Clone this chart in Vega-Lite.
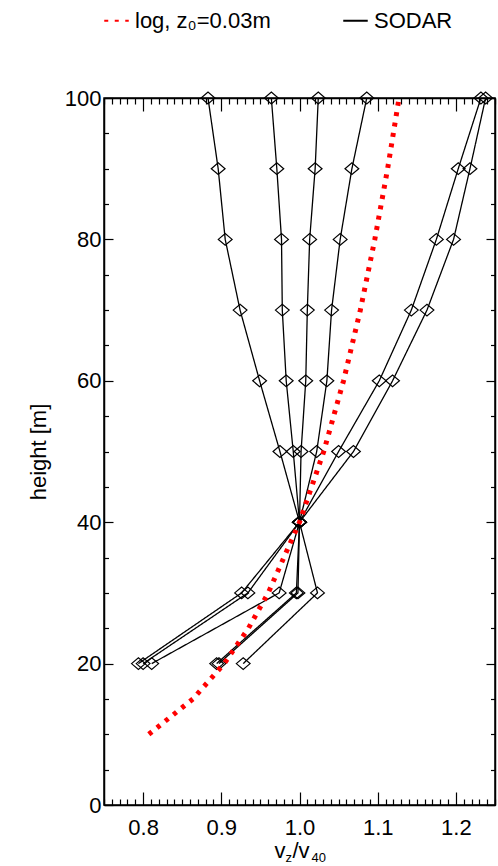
{
  "$schema": "https://vega.github.io/schema/vega-lite/v6.json",
  "width": 391,
  "height": 707,
  "autosize": {"type": "none"},
  "padding": {"left": 104, "top": 98, "right": 3, "bottom": 61},
  "background": "white",
  "config": {
    "view": {"stroke": "black", "strokeWidth": 1.5},
    "font": "Liberation Sans",
    "axis": {
      "domainColor": "black", "domainWidth": 1.5, "tickColor": "black", "tickWidth": 1.2,
      "labelColor": "black", "titleColor": "black", "labelFont": "Liberation Sans", "titleFont": "Liberation Sans",
      "labelFontSize": 22, "titleFontSize": 22, "titleFontWeight": "normal", "grid": false
    },
    "legend": {
      "orient": "none", "legendX": -1, "legendY": -91, "direction": "horizontal",
      "symbolType": "stroke", "symbolSize": 600, "symbolStrokeWidth": 2,
      "labelFont": "Liberation Sans", "labelFontSize": 22, "labelColor": "black", "columnPadding": 68, "labelOffset": 5
    }
  },
  "datasets": {
    "logprof": [
      {"v": 0.8073, "h": 10, "kind": "log, z₀=0.03m"},
      {"v": 0.8637, "h": 15, "kind": "log, z₀=0.03m"},
      {"v": 0.9037, "h": 20, "kind": "log, z₀=0.03m"},
      {"v": 0.9347, "h": 25, "kind": "log, z₀=0.03m"},
      {"v": 0.9600, "h": 30, "kind": "log, z₀=0.03m"},
      {"v": 1.0000, "h": 40, "kind": "log, z₀=0.03m"},
      {"v": 1.0310, "h": 50, "kind": "log, z₀=0.03m"},
      {"v": 1.0563, "h": 60, "kind": "log, z₀=0.03m"},
      {"v": 1.0778, "h": 70, "kind": "log, z₀=0.03m"},
      {"v": 1.0963, "h": 80, "kind": "log, z₀=0.03m"},
      {"v": 1.1127, "h": 90, "kind": "log, z₀=0.03m"},
      {"v": 1.1273, "h": 100, "kind": "log, z₀=0.03m"}
    ],
    "sodar": [
      {"s": 1, "h": 100, "v": 0.883, "kind": "SODAR"}, {"s": 1, "h": 90, "v": 0.896, "kind": "SODAR"}, {"s": 1, "h": 80, "v": 0.905, "kind": "SODAR"}, {"s": 1, "h": 70, "v": 0.924, "kind": "SODAR"}, {"s": 1, "h": 60, "v": 0.949, "kind": "SODAR"}, {"s": 1, "h": 50, "v": 0.975, "kind": "SODAR"}, {"s": 1, "h": 40, "v": 1.0, "kind": "SODAR"}, {"s": 1, "h": 30, "v": 0.926, "kind": "SODAR"}, {"s": 1, "h": 20, "v": 0.794, "kind": "SODAR"},
      {"s": 2, "h": 100, "v": 0.964, "kind": "SODAR"}, {"s": 2, "h": 90, "v": 0.971, "kind": "SODAR"}, {"s": 2, "h": 80, "v": 0.977, "kind": "SODAR"}, {"s": 2, "h": 70, "v": 0.978, "kind": "SODAR"}, {"s": 2, "h": 60, "v": 0.983, "kind": "SODAR"}, {"s": 2, "h": 50, "v": 0.992, "kind": "SODAR"}, {"s": 2, "h": 40, "v": 1.0, "kind": "SODAR"}, {"s": 2, "h": 30, "v": 0.934, "kind": "SODAR"}, {"s": 2, "h": 20, "v": 0.800, "kind": "SODAR"},
      {"s": 3, "h": 100, "v": 1.024, "kind": "SODAR"}, {"s": 3, "h": 90, "v": 1.020, "kind": "SODAR"}, {"s": 3, "h": 80, "v": 1.013, "kind": "SODAR"}, {"s": 3, "h": 70, "v": 1.010, "kind": "SODAR"}, {"s": 3, "h": 60, "v": 1.008, "kind": "SODAR"}, {"s": 3, "h": 50, "v": 1.002, "kind": "SODAR"}, {"s": 3, "h": 40, "v": 1.0, "kind": "SODAR"}, {"s": 3, "h": 30, "v": 0.974, "kind": "SODAR"}, {"s": 3, "h": 20, "v": 0.811, "kind": "SODAR"},
      {"s": 4, "h": 100, "v": 1.086, "kind": "SODAR"}, {"s": 4, "h": 90, "v": 1.067, "kind": "SODAR"}, {"s": 4, "h": 80, "v": 1.052, "kind": "SODAR"}, {"s": 4, "h": 70, "v": 1.041, "kind": "SODAR"}, {"s": 4, "h": 60, "v": 1.035, "kind": "SODAR"}, {"s": 4, "h": 50, "v": 1.022, "kind": "SODAR"}, {"s": 4, "h": 40, "v": 1.0, "kind": "SODAR"}, {"s": 4, "h": 30, "v": 0.996, "kind": "SODAR"}, {"s": 4, "h": 20, "v": 0.894, "kind": "SODAR"},
      {"s": 5, "h": 100, "v": 1.232, "kind": "SODAR"}, {"s": 5, "h": 90, "v": 1.203, "kind": "SODAR"}, {"s": 5, "h": 80, "v": 1.175, "kind": "SODAR"}, {"s": 5, "h": 70, "v": 1.143, "kind": "SODAR"}, {"s": 5, "h": 60, "v": 1.102, "kind": "SODAR"}, {"s": 5, "h": 50, "v": 1.050, "kind": "SODAR"}, {"s": 5, "h": 40, "v": 1.0, "kind": "SODAR"}, {"s": 5, "h": 30, "v": 1.023, "kind": "SODAR"}, {"s": 5, "h": 20, "v": 0.928, "kind": "SODAR"},
      {"s": 6, "h": 100, "v": 1.238, "kind": "SODAR"}, {"s": 6, "h": 90, "v": 1.218, "kind": "SODAR"}, {"s": 6, "h": 80, "v": 1.197, "kind": "SODAR"}, {"s": 6, "h": 70, "v": 1.163, "kind": "SODAR"}, {"s": 6, "h": 60, "v": 1.119, "kind": "SODAR"}, {"s": 6, "h": 50, "v": 1.069, "kind": "SODAR"}, {"s": 6, "h": 40, "v": 1.0, "kind": "SODAR"}, {"s": 6, "h": 30, "v": 0.998, "kind": "SODAR"}, {"s": 6, "h": 20, "v": 0.897, "kind": "SODAR"}
    ],
    "xtitle": [
      {"t": "v", "part": "main1"},
      {"t": "z", "part": "sub1"},
      {"t": "/v", "part": "main2"},
      {"t": "40", "part": "sub2"}
    ]
  },
  "resolve": {"axis": {"x": "independent", "y": "independent"}},
  "layer": [
    {
      "data": {"name": "sodar"},
      "mark": {"type": "line", "strokeWidth": 1.3},
      "encoding": {
        "x": {"field": "v", "type": "quantitative", "scale": {"domain": [0.75, 1.25], "nice": false, "zero": false},
          "axis": {"orient": "top", "labels": false, "title": null, "values": [0.75,0.76,0.77,0.78,0.79,0.8,0.81,0.82,0.83,0.84,0.85,0.86,0.87,0.88,0.89,0.9,0.91,0.92,0.93,0.94,0.95,0.96,0.97,0.98,0.99,1.0,1.01,1.02,1.03,1.04,1.05,1.06,1.07,1.08,1.09,1.1,1.11,1.12,1.13,1.14,1.15,1.16,1.17,1.18,1.19,1.2,1.21,1.22,1.23,1.24,1.25],
            "tickSize": {"condition": {"test": "abs(datum.value*10 - round(datum.value*10)) < 0.001", "value": -13}, "value": -6}}},
        "y": {"field": "h", "type": "quantitative", "scale": {"domain": [0, 100], "nice": false, "zero": false},
          "axis": {"orient": "right", "labels": false, "title": null, "values": [0,5,10,15,20,25,30,35,40,45,50,55,60,65,70,75,80,85,90,95,100],
            "tickSize": {"condition": {"test": "datum.value % 20 == 0", "value": -9}, "value": -4.5}}},
        "order": {"field": "h", "type": "quantitative"},
        "detail": {"field": "s", "type": "nominal"},
        "color": {"field": "kind", "type": "nominal", "scale": {"domain": ["log, z₀=0.03m", "SODAR"], "range": ["#ff0000", "#000000"]}, "legend": {"title": null}},
        "strokeDash": {"field": "kind", "type": "nominal", "scale": {"domain": ["log, z₀=0.03m", "SODAR"], "range": [[4, 6.5], [1, 0]]}, "legend": {"title": null}}
      }
    },
    {
      "data": {"name": "sodar"},
      "mark": {"type": "point", "shape": "M-1,0L0,-0.85L1,0L0,0.85Z", "filled": false, "stroke": "black", "strokeWidth": 1.2, "size": 190, "opacity": 1},
      "encoding": {
        "x": {"field": "v", "type": "quantitative", "axis": null},
        "y": {"field": "h", "type": "quantitative", "axis": null}
      }
    },
    {
      "data": {"name": "logprof"},
      "mark": {"type": "line", "strokeWidth": 5},
      "encoding": {
        "x": {"field": "v", "type": "quantitative",
          "axis": {"orient": "bottom", "title": null, "values": [0.75,0.76,0.77,0.78,0.79,0.8,0.81,0.82,0.83,0.84,0.85,0.86,0.87,0.88,0.89,0.9,0.91,0.92,0.93,0.94,0.95,0.96,0.97,0.98,0.99,1.0,1.01,1.02,1.03,1.04,1.05,1.06,1.07,1.08,1.09,1.1,1.11,1.12,1.13,1.14,1.15,1.16,1.17,1.18,1.19,1.2,1.21,1.22,1.23,1.24,1.25],
            "labelExpr": "abs(datum.value*10 - round(datum.value*10)) < 0.001 ? format(datum.value, '.1f') : ''",
            "tickSize": {"condition": {"test": "abs(datum.value*10 - round(datum.value*10)) < 0.001", "value": -13}, "value": -6},
            "labelPadding": 25}},
        "y": {"field": "h", "type": "quantitative", "title": "height [m]",
          "axis": {"orient": "left", "values": [0,5,10,15,20,25,30,35,40,45,50,55,60,65,70,75,80,85,90,95,100],
            "labelExpr": "datum.value % 20 == 0 ? datum.label : ''",
            "tickSize": {"condition": {"test": "datum.value % 20 == 0", "value": -9}, "value": -4.5},
            "labelPadding": 12, "titlePadding": 14}},
        "order": {"field": "h", "type": "quantitative"},
        "color": {"field": "kind", "type": "nominal", "legend": {"title": null}},
        "strokeDash": {"field": "kind", "type": "nominal", "legend": {"title": null}}
      }
    },
    {
      "mark": {"type": "rule", "color": "#7070ff", "strokeWidth": 2},
      "encoding": {"x": {"datum": 1.0, "type": "quantitative", "axis": null}}
    },
    {
      "data": {"name": "xtitle"},
      "transform": [{"filter": "datum.part == 'main1'"}],
      "mark": {"type": "text", "align": "left", "baseline": "alphabetic", "fontSize": 22, "font": "Liberation Sans", "color": "black", "dx": -25, "dy": 53},
      "encoding": {"x": {"datum": 1.0, "type": "quantitative", "axis": null}, "y": {"datum": 0, "type": "quantitative", "axis": null}, "text": {"field": "t"}}
    },
    {
      "data": {"name": "xtitle"},
      "transform": [{"filter": "datum.part == 'sub1'"}],
      "mark": {"type": "text", "align": "left", "baseline": "alphabetic", "fontSize": 13, "font": "Liberation Sans", "color": "black", "dx": -14, "dy": 57},
      "encoding": {"x": {"datum": 1.0, "type": "quantitative", "axis": null}, "y": {"datum": 0, "type": "quantitative", "axis": null}, "text": {"field": "t"}}
    },
    {
      "data": {"name": "xtitle"},
      "transform": [{"filter": "datum.part == 'main2'"}],
      "mark": {"type": "text", "align": "left", "baseline": "alphabetic", "fontSize": 22, "font": "Liberation Sans", "color": "black", "dx": -7, "dy": 53},
      "encoding": {"x": {"datum": 1.0, "type": "quantitative", "axis": null}, "y": {"datum": 0, "type": "quantitative", "axis": null}, "text": {"field": "t"}}
    },
    {
      "data": {"name": "xtitle"},
      "transform": [{"filter": "datum.part == 'sub2'"}],
      "mark": {"type": "text", "align": "left", "baseline": "alphabetic", "fontSize": 13, "font": "Liberation Sans", "color": "black", "dx": 12, "dy": 57},
      "encoding": {"x": {"datum": 1.0, "type": "quantitative", "axis": null}, "y": {"datum": 0, "type": "quantitative", "axis": null}, "text": {"field": "t"}}
    }
  ]
}
